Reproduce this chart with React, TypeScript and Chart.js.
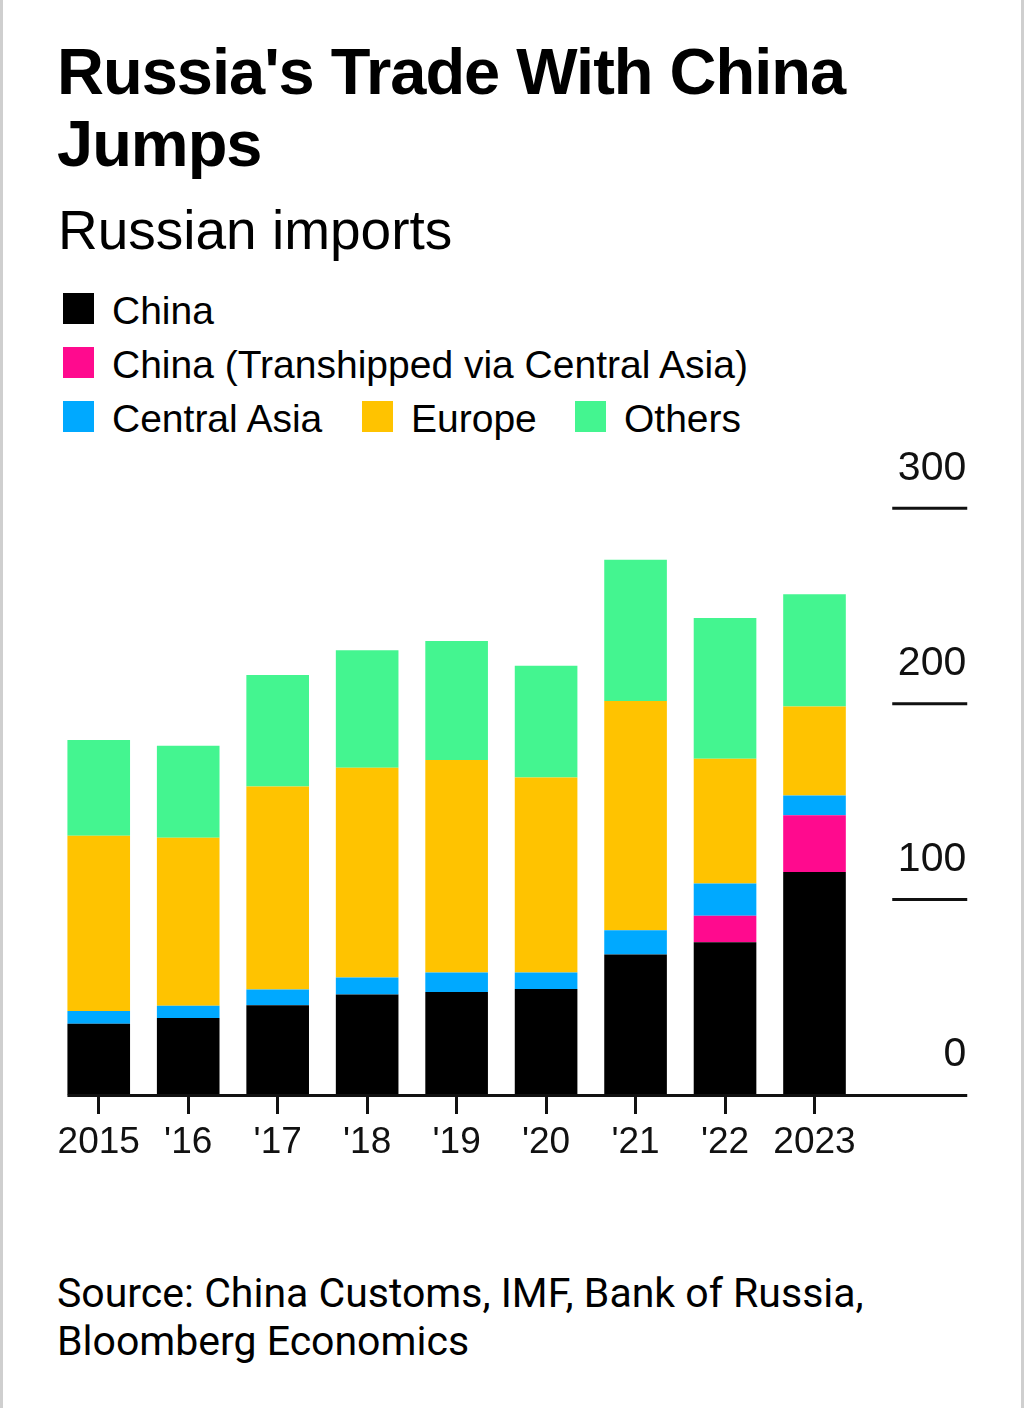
import React, { useEffect, useRef } from "react";
import { Chart, registerables } from "chart.js";

Chart.register(...registerables);

// ---- data ----
const years = ["2015", "'16", "'17", "'18", "'19", "'20", "'21", "'22", "2023"];
const china = [36.4, 39.4, 45.9, 51.4, 52.7, 54.2, 71.9, 78.1, 114.0];
const transhipped = [null, null, null, null, null, null, null, 13.6, 29.0];
const centralAsia = [6.6, 6.2, 8.0, 8.7, 9.9, 8.4, 12.3, 16.5, 10.2];
const europe = [89.5, 85.9, 103.8, 107.2, 108.7, 99.8, 117.3, 63.8, 45.5];
const others = [49.0, 47.1, 57.1, 60.1, 60.8, 57.1, 72.2, 71.9, 57.4];
const yTicks = [0, 100, 200, 300];

const seriesLabels = [
  "China",
  "China (Transhipped via Central Asia)",
  "Central Asia",
  "Europe",
  "Others",
];
const seriesColors = ["#000000", "#FF0A8E", "#00A9FF", "#FFC300", "#44F590"];
const seriesData = [china, transhipped, centralAsia, europe, others];

const FONT = '"Liberation Sans", Arial, Helvetica, sans-serif';
const INK = "#111111";

const axisLinesPlugin = {
  id: "axisLines",
  afterDatasetsDraw(chart: any) {
    const { ctx } = chart;
    const y = chart.scales.y;
    const meta = chart.getDatasetMeta(0);
    const first: any = meta.data[0];
    const left = first.x - first.width / 2;
    ctx.save();
    ctx.strokeStyle = INK;
    ctx.lineWidth = 3;
    ctx.lineCap = "butt";
    y.ticks.forEach((t: any) => {
      const py = y.getPixelForValue(t.value);
      ctx.beginPath();
      if (t.value === 0) {
        ctx.moveTo(left, py + 0.5);
        ctx.lineTo(y.right + 1, py + 0.5);
      } else {
        ctx.moveTo(y.left + 33, py);
        ctx.lineTo(y.right + 1, py);
      }
      ctx.stroke();
    });
    ctx.restore();
  },
};

function BarChart() {
  const ref = useRef<HTMLCanvasElement | null>(null);
  useEffect(() => {
    if (!ref.current) return;
    Chart.defaults.font.family = FONT;
    const chart = new Chart(ref.current, {
      type: "bar",
      data: {
        labels: years,
        datasets: seriesData.map((d, i) => ({
          label: seriesLabels[i],
          data: d as any,
          backgroundColor: seriesColors[i],
          borderWidth: 0,
          barPercentage: 0.7,
          categoryPercentage: 1,
        })),
      },
      options: {
        responsive: false,
        animation: false,
        devicePixelRatio: 1,
        layout: { padding: { left: 54, right: 57.76, top: 68.3, bottom: 0 } },
        plugins: {
          legend: { display: false },
          tooltip: { enabled: false },
          title: { display: false },
        },
        scales: {
          x: {
            stacked: true,
            afterFit: (s: any) => {
              s.height = 85;
            },
            grid: {
              display: true,
              drawOnChartArea: false,
              drawTicks: true,
              tickLength: 19,
              tickWidth: 3,
              tickColor: INK,
              offset: false,
            },
            border: { display: false },
            ticks: {
              color: INK,
              font: { size: 37, family: FONT, lineHeight: 1 },
              padding: 10.5,
              maxRotation: 0,
              minRotation: 0,
              autoSkip: false,
            },
          },
          y: {
            stacked: true,
            position: "right",
            min: 0,
            max: 300,
            afterBuildTicks: (s: any) => {
              s.ticks = yTicks.map((v) => ({ value: v }));
            },
            afterFit: (s: any) => {
              s.width = 107;
            },
            grid: { display: true, drawOnChartArea: false, drawTicks: false },
            border: { display: false },
            ticks: {
              crossAlign: "far",
              padding: 40,
              labelOffset: -40,
              color: INK,
              font: { size: 41, family: FONT, lineHeight: 1 },
              autoSkip: false,
            },
          },
        },
      },
      plugins: [axisLinesPlugin],
    } as any);
    return () => chart.destroy();
  }, []);
  return (
    <canvas
      ref={ref}
      width={1024}
      height={740}
      style={{ position: "absolute", left: 0, top: 440, width: 1024, height: 740 }}
    />
  );
}

function LegendItem({ x, top, color, label }: { x: number; top: number; color: string; label: string }) {
  return (
    <div
      style={{
        position: "absolute",
        left: x,
        top,
        height: 54,
        lineHeight: "54px",
        fontSize: 39,
        fontFamily: FONT,
        color: "#000",
        whiteSpace: "nowrap",
      }}
    >
      <span
        style={{
          position: "absolute",
          left: 0,
          top: 9.5,
          width: 31,
          height: 31,
          background: color,
        }}
      />
      <span style={{ position: "absolute", left: 49, top: 0 }}>{label}</span>
    </div>
  );
}

export default function App() {
  return (
    <div
      style={{
        position: "absolute",
        left: 0,
        top: 0,
        width: 1024,
        height: 1408,
        background: "#ffffff",
        overflow: "hidden",
      }}
    >
      <div style={{ position: "absolute", left: 0, top: 0, width: 3, height: 1408, background: "#cfcfcf" }} />
      <div style={{ position: "absolute", left: 1021, top: 0, width: 3, height: 1408, background: "#cfcfcf" }} />
      <div
        style={{
          position: "absolute",
          left: 57,
          top: 35.5,
          width: 900,
          fontFamily: FONT,
          fontWeight: 700,
          fontSize: 65,
          lineHeight: "72.5px",
          letterSpacing: -1,
          color: "#000",
        }}
      >
        Russia's Trade With China Jumps
      </div>
      <div
        style={{
          position: "absolute",
          left: 58,
          top: 203.4,
          fontFamily: FONT,
          fontSize: 55,
          lineHeight: "55px",
          color: "#000",
          whiteSpace: "nowrap",
        }}
      >
        Russian imports
      </div>
      <LegendItem x={63} top={283.8} color={seriesColors[0]} label={seriesLabels[0]} />
      <LegendItem x={63} top={337.8} color={seriesColors[1]} label={seriesLabels[1]} />
      <LegendItem x={63} top={391.8} color={seriesColors[2]} label={seriesLabels[2]} />
      <LegendItem x={362} top={391.8} color={seriesColors[3]} label={seriesLabels[3]} />
      <LegendItem x={575} top={391.8} color={seriesColors[4]} label={seriesLabels[4]} />
      <BarChart />
      <div
        style={{
          position: "absolute",
          left: 57,
          top: 1268.7,
          width: 940,
          fontFamily: 'Roboto, "Liberation Sans", Arial, sans-serif',
          fontSize: 41,
          lineHeight: "48px",
          color: "#000",
          whiteSpace: "nowrap",
        }}
      >
        Source: China Customs, IMF, Bank of Russia,
        <br />
        Bloomberg Economics
      </div>
    </div>
  );
}
